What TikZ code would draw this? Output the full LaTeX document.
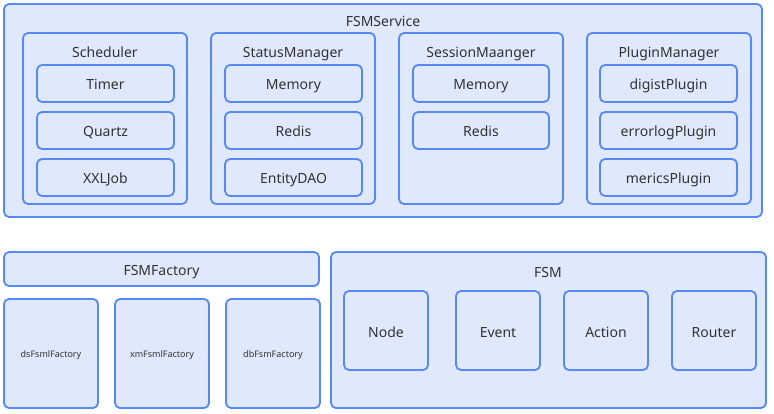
\documentclass[tikz,border=0pt]{standalone}
\usepackage{fontspec}
\setmainfont{Noto Sans}
\definecolor{boxfill}{HTML}{E0E8FC}
\definecolor{boxline}{HTML}{5588F8}
\definecolor{txt}{HTML}{333333}
\tikzset{
  bx/.style={draw=boxline, fill=boxfill, line width=1.8pt, rounded corners=5pt},
  lbl/.style={text=txt, font=\fontsize{14}{16}\selectfont, inner sep=0pt, text height=10pt, text depth=3pt, yshift=-3pt},
  small/.style={text=txt, font=\fontsize{9}{10}\selectfont, inner sep=0pt, text height=6.5pt, text depth=2pt, yshift=-2pt},
}
\newcommand{\rbox}[5]{% name, x1, y1, x2, y2
  \draw[bx] (#2,#3) rectangle (#4,#5);
  \coordinate (#1) at ({(#2+#4)/2},{(#3+#5)/2});
}
\begin{document}
\begin{tikzpicture}[x=1pt,y=-1pt]
\useasboundingbox (0,0) rectangle (774,414);
% FSMService
\rbox{svc}{4}{4}{762}{217}
\node[lbl] (svct) at (383,20) {FSMService};
% columns
\foreach \n/\xa/\xb/\t in {sch/23/187/Scheduler, st/211/375/StatusManager, se/399/563/SessionMaanger, pl/587/751/PluginManager}{
  \rbox{\n}{\xa}{33}{\xb}{204}
  \node[lbl] (\n t) at ({(\xa+\xb)/2},51) {\t};
}
\rbox{i11}{37}{65}{174}{102}   \node[lbl] (t11) at (i11) {Timer};
\rbox{i12}{37}{112}{174}{149}  \node[lbl] (t12) at (i12) {Quartz};
\rbox{i13}{37}{159}{174}{196}  \node[lbl] (t13) at (i13) {XXLJob};
\rbox{i21}{225}{65}{362}{102}  \node[lbl] (t21) at (i21) {Memory};
\rbox{i22}{225}{112}{362}{149} \node[lbl] (t22) at (i22) {Redis};
\rbox{i23}{225}{159}{362}{196} \node[lbl] (t23) at (i23) {EntityDAO};
\rbox{i31}{413}{65}{549}{102}  \node[lbl] (t31) at (i31) {Memory};
\rbox{i32}{413}{112}{549}{149} \node[lbl] (t32) at (i32) {Redis};
\rbox{i41}{600}{65}{737}{102}  \node[lbl] (t41) at (i41) {digistPlugin};
\rbox{i42}{600}{112}{737}{149} \node[lbl] (t42) at (i42) {errorlogPlugin};
\rbox{i43}{600}{159}{737}{196} \node[lbl] (t43) at (i43) {mericsPlugin};
% FSMFactory
\rbox{fac}{4}{252}{319}{286} \node[lbl] (fact) at (fac) {FSMFactory};
\rbox{f1}{4}{299}{98}{408}    \node[small] (f1t) at (f1) {dsFsmlFactory};
\rbox{f2}{115}{299}{209}{408} \node[small] (f2t) at (f2) {xmFsmlFactory};
\rbox{f3}{226}{299}{320}{408} \node[small] (f3t) at (f3) {dbFsmFactory};
% FSM
\rbox{fsm}{331}{252}{766}{408} \node[lbl] (fsmt) at (548,271) {FSM};
\rbox{n1}{344}{291}{428}{370} \node[lbl] (n1t) at (n1) {Node};
\rbox{n2}{456}{291}{540}{370} \node[lbl] (n2t) at (n2) {Event};
\rbox{n3}{564}{291}{648}{370} \node[lbl] (n3t) at (n3) {Action};
\rbox{n4}{672}{291}{756}{370} \node[lbl] (n4t) at (n4) {Router};
\end{tikzpicture}
\end{document}
